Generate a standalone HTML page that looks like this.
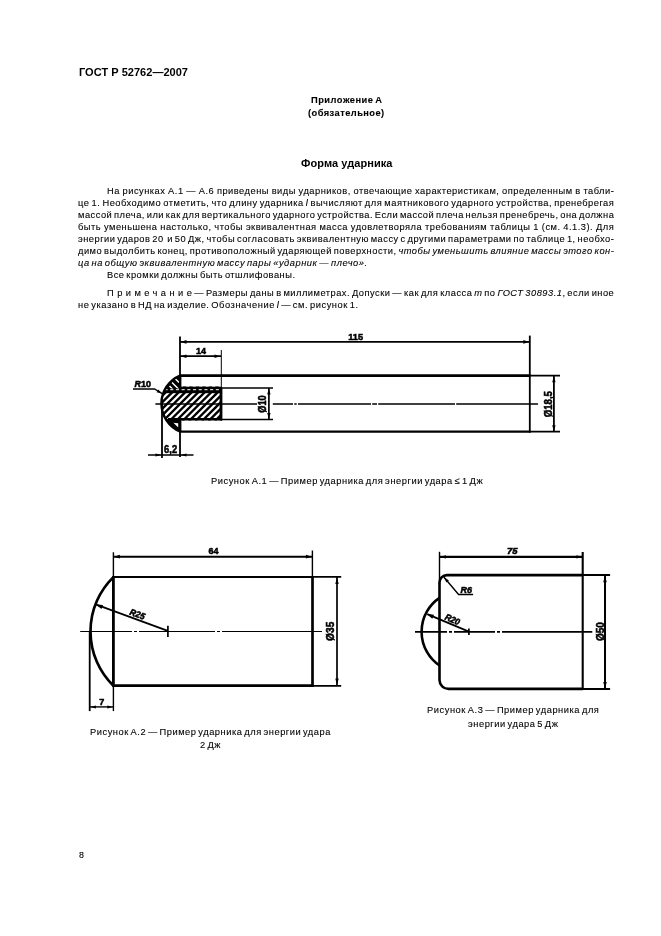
<!DOCTYPE html>
<html><head><meta charset="utf-8"><title>ГОСТ Р 52762—2007</title>
<style>
html,body{margin:0;padding:0;background:#fff;}
body{width:661px;height:936px;position:relative;overflow:hidden;font-family:"Liberation Sans",sans-serif;color:#000;}
.t{position:absolute;white-space:nowrap;line-height:12px;height:12px;will-change:transform;}
.s{-webkit-text-stroke:0.1px #000;}
.s{word-spacing:-1.3px;}
.j{text-align:justify;text-align-last:justify;}
svg{position:absolute;left:0;top:0;}
svg text{font-family:"Liberation Sans",sans-serif;}
</style></head><body>
<div class="t" style="left:79.0px;top:66.4px;font-size:11px;letter-spacing:0.028px;font-weight:bold">ГОСТ Р 52762—2007</div>
<div class="t s" style="left:310.7px;top:93.8px;font-size:9.3px;letter-spacing:0.494px;font-weight:bold">Приложение А</div>
<div class="t s" style="left:308.0px;top:107.2px;font-size:9.3px;letter-spacing:0.446px;font-weight:bold">(обязательное)</div>
<div class="t" style="left:300.5px;top:156.8px;font-size:11px;letter-spacing:0.066px;font-weight:bold">Форма ударника</div>
<div class="t j s" style="left:107.0px;top:184.6px;width:507.3px;font-size:9.3px;letter-spacing:0.493px;">На рисунках А.1 — А.6 приведены виды ударников, отвечающие характеристикам, определенным в табли-</div>
<div class="t j s" style="left:78.0px;top:196.7px;width:536.3px;font-size:9.3px;letter-spacing:0.493px;">це 1. Необходимо отметить, что длину ударника <i>l</i> вычисляют для маятникового ударного устройства, пренебрегая</div>
<div class="t j s" style="left:78.0px;top:208.8px;width:536.3px;font-size:9.3px;letter-spacing:0.493px;">массой плеча, или как для вертикального ударного устройства. Если массой плеча нельзя пренебречь, она должна</div>
<div class="t j s" style="left:78.0px;top:220.9px;width:536.3px;font-size:9.3px;letter-spacing:0.493px;">быть уменьшена настолько, чтобы эквивалентная масса удовлетворяла требованиям таблицы 1 (см. 4.1.3). Для</div>
<div class="t j s" style="left:78.0px;top:233.0px;width:536.3px;font-size:9.3px;letter-spacing:0.493px;">энергии ударов 20&nbsp; и 50 Дж, чтобы согласовать эквивалентную массу с другими параметрами по таблице 1, необхо-</div>
<div class="t j s" style="left:78.0px;top:245.1px;width:536.3px;font-size:9.3px;letter-spacing:0.493px;">димо выдолбить конец, противоположный ударяющей поверхности, <i>чтобы уменьшить влияние массы этого кон-</i></div>
<div class="t s" style="left:78.0px;top:257.2px;font-size:9.3px;letter-spacing:0.542px;"><i>ца на общую эквивалентную массу пары «ударник — плечо».</i></div>
<div class="t s" style="left:107.0px;top:269.3px;font-size:9.3px;letter-spacing:0.509px;">Все кромки должны быть отшлифованы.</div>
<div class="t j s" style="left:107.0px;top:286.7px;width:507.3px;font-size:9.3px;letter-spacing:0.493px;"><span style="letter-spacing:3.45px;word-spacing:0">Примечани</span>е — Размеры даны в миллиметрах. Допуски — как для класса <i>m</i> по <i>ГОСТ 30893.1</i>, если иное</div>
<div class="t s" style="left:78.0px;top:298.8px;font-size:9.3px;letter-spacing:0.551px;">не указано в НД на изделие. Обозначение <i>l</i> — см. рисунок 1.</div>
<div class="t s" style="left:210.6px;top:474.8px;font-size:9.3px;letter-spacing:0.546px;">Рисунок А.1 — Пример ударника для энергии удара ≤ 1 Дж</div>
<div class="t s" style="left:90.4px;top:725.6px;font-size:9.3px;letter-spacing:0.528px;">Рисунок А.2 — Пример ударника для энергии удара</div>
<div class="t s" style="left:200.0px;top:738.6px;font-size:9.3px;letter-spacing:0.472px;">2 Дж</div>
<div class="t s" style="left:426.5px;top:703.9px;font-size:9.3px;letter-spacing:0.551px;">Рисунок А.3 — Пример ударника для</div>
<div class="t s" style="left:467.8px;top:718.2px;font-size:9.3px;letter-spacing:0.535px;">энергии удара 5 Дж</div>
<div class="t s" style="left:78.5px;top:849.4px;font-size:8.9px;letter-spacing:0.000px;">8</div>
<svg width="661" height="936" viewBox="0 0 661 936" fill="none" stroke="#000" stroke-linecap="butt">
<defs>
<clipPath id="h1"><path d="M221,386.4 L221,420.5 L166.8,420.5 A30.4,30.4 0 0 1 166.9,386.4 Z"/></clipPath>
<clipPath id="h1a"><path d="M180,375.5 L180,388.5 L165.7,388.5 A30.4,30.4 0 0 1 180,375.5 Z"/></clipPath>
<clipPath id="h1b"><path d="M180,431.5 L180,419 L165.9,419 A30.4,30.4 0 0 0 180,431.5 Z"/></clipPath>
</defs>
<!-- ================= Figure A.1 ================= -->
<g id="fig1">
<!-- hatch -->
<g clip-path="url(#h1)">
<path d="M130.5,421 l36,-36 M137.0,421 l36,-36 M143.5,421 l36,-36 M150.0,421 l36,-36 M156.5,421 l36,-36 M163.0,421 l36,-36 M169.5,421 l36,-36 M176.0,421 l36,-36 M182.5,421 l36,-36 M189.0,421 l36,-36 M195.5,421 l36,-36 M202.0,421 l36,-36 M208.5,421 l36,-36 M215.0,421 l36,-36 M221.5,421 l36,-36" stroke-width="2.35"/>
<rect x="160" y="386.4" width="62" height="6.8" fill="#000" stroke="none"/>
<path d="M164.5,389.7 H220" stroke="#fff" stroke-width="1" stroke-dasharray="3.1,2.6"/>
</g>
<g clip-path="url(#h1a)">
<rect x="160" y="374" width="21" height="15" fill="#000" stroke="none"/>
<path d="M169.5,386 l4,4 M172,382.5 l7,7 M175,378.5 l4,4" stroke="#fff" stroke-width="1.5"/>
</g>
<g clip-path="url(#h1b)">
<rect x="160" y="419" width="21" height="14" fill="#000" stroke="none"/>
<path d="M173.4,422.8 L178.2,423.2 L178.2,427.6 Z" fill="#fff" stroke="none"/>
</g>
<!-- dome -->
<path d="M180,375.5 A30.4,30.4 0 0 0 180,431.5" stroke-width="2.4"/>
<!-- rod -->
<path d="M179.5,375.6 H530.5" stroke-width="2.7"/>
<path d="M179.5,431.6 H530.5" stroke-width="2.1"/>
<path d="M180,336.4 V376 M180,431 V457" stroke-width="1.8"/>
<path d="M180.2,375 V388.5 M180.2,419 V432" stroke-width="2.4"/>
<path d="M529.8,335.6 V432.6" stroke-width="1.8"/>
<!-- bore -->
<path d="M221,388.1 H273" stroke-width="1.5"/>
<path d="M168,419.3 H222" stroke-width="2.6"/>
<path d="M221,419.5 H273" stroke-width="1.5"/>
<path d="M221,387.5 V420.5" stroke-width="2.8"/>
<path d="M221.3,350 V388" stroke-width="1"/>
<!-- centre line -->
<path d="M155.4,404 H257 M272.8,404 H293 M294.3,404 H296.7 M298,404 H371 M372.2,404 H377 M378.2,404 H455 M456.2,404 H538" stroke-width="1.7"/>
<!-- dim 115 -->
<path d="M180,341.9 H530" stroke-width="1.9"/>
<path d="M180.5,341.9 l6,-1.8 v3.6 z M529.3,341.9 l-6,-1.8 v3.6 z" fill="#000" stroke="none"/>
<!-- dim 14 -->
<path d="M180,356.2 H221" stroke-width="1.7"/>
<path d="M180.5,356.2 l6,-1.7 v3.4 z M220.5,356.2 l-6,-1.7 v3.4 z" fill="#000" stroke="none"/>
<!-- dim 6,2 -->
<path d="M162,404 V458" stroke-width="1.8"/>
<path d="M148,455 H193.5" stroke-width="1.7"/>
<path d="M161.5,455 l-6,-1.5 v3 z M180.5,455 l6,-1.5 v3 z" fill="#000" stroke="none"/>
<!-- R10 leader -->
<path d="M133,389 H154.5 L162,393.5" stroke-width="1.4"/>
<path d="M162.5,393.8 l-5.8,-1.6 l1.5,-2.6 z" fill="#000" stroke="none"/>
<!-- dia 10 -->
<path d="M268.9,388.1 V419.5" stroke-width="1.7"/>
<path d="M268.9,388.5 l-1.7,6 h3.4 z M268.9,419 l-1.7,-6 h3.4 z" fill="#000" stroke="none"/>
<!-- dia 18,5 -->
<path d="M530,375.6 H560 M530,431.7 H560" stroke-width="1.8"/>
<path d="M553.9,375.8 V431.8" stroke-width="1.8"/>
<path d="M553.9,376.3 l-1.7,6 h3.4 z M553.9,431.3 l-1.7,-6 h3.4 z" fill="#000" stroke="none"/>
<!-- labels -->
<g fill="#000" stroke="#000" stroke-width="0.55" font-weight="bold" font-size="9.6px" text-anchor="middle">
<text x="355.6" y="339.6" textLength="14.8" lengthAdjust="spacingAndGlyphs">115</text>
<text x="200.9" y="353.6" font-size="9.4px" textLength="10" lengthAdjust="spacingAndGlyphs">14</text>
<text x="170.6" y="452.9" font-size="10.8px" textLength="13" lengthAdjust="spacingAndGlyphs">6,2</text>
<text x="142.7" y="386.8" textLength="16.4" lengthAdjust="spacingAndGlyphs"><tspan font-style="italic">R</tspan>10</text>
<text transform="translate(265.8,404) rotate(-90)" font-size="10.8px" textLength="17.5" lengthAdjust="spacingAndGlyphs">Ø10</text>
<text transform="translate(552.3,404.2) rotate(-90)" font-size="10.8px" textLength="26.3" lengthAdjust="spacingAndGlyphs">Ø18,5</text>
</g>
</g>
<!-- ================= Figure A.2 ================= -->
<g id="fig2">
<path d="M113.4,577.1 A75.8,75.8 0 0 0 113.4,685.7" stroke-width="2.7"/>
<path d="M112.3,576.9 H313.5" stroke-width="2"/>
<path d="M112.3,685.6 H313.5" stroke-width="2.9"/>
<path d="M113.4,576.2 V686.7" stroke-width="2.8"/>
<path d="M312.5,576 V687" stroke-width="2.7"/>
<path d="M113.4,552.3 V577 M312.4,550.4 V577" stroke-width="1.4"/>
<path d="M113.4,556.7 H312.4" stroke-width="2"/>
<path d="M113.9,556.7 l6,-1.9 v3.8 z M311.9,556.7 l-6,-1.9 v3.8 z" fill="#000" stroke="none"/>
<path d="M313,576.9 H341.2 M313,685.8 H341.2" stroke-width="1.7"/>
<path d="M337,577.1 V685.5" stroke-width="1.7"/>
<path d="M337,577.6 l-1.7,6.5 h3.4 z M337,685 l-1.7,-6.5 h3.4 z" fill="#000" stroke="none"/>
<path d="M80.2,631.5 H132 M134,631.5 H137 M139,631.5 H215 M217,631.5 H220 M222,631.5 H322" stroke-width="1.2"/>
<path d="M167.8,630.9 L96.3,604.7" stroke-width="1.8"/>
<path d="M95.6,604.4 l7.4,0.5 l-1.5,4 z" fill="#000" stroke="none"/>
<path d="M167.9,625.8 V637" stroke-width="1.7"/>
<path d="M89.7,631.5 V711.1" stroke-width="1.8"/>
<path d="M113.4,685.7 V711.1" stroke-width="1.4"/>
<path d="M89.7,706.9 H113.4" stroke-width="1.4"/>
<path d="M90.4,706.9 l5.5,-1.5 v3 z M112.8,706.9 l-5.5,-1.5 v3 z" fill="#000" stroke="none"/>
<g fill="#000" stroke="#000" stroke-width="0.55" font-weight="bold" font-size="9.6px" text-anchor="middle">
<text x="213.5" y="553.6" textLength="10" lengthAdjust="spacingAndGlyphs">64</text>
<text x="101.8" y="704.8" font-size="9px">7</text>
<text transform="translate(136.3,617.1) rotate(20)" font-size="9px" textLength="15.5" lengthAdjust="spacingAndGlyphs" font-style="italic">R25</text>
<text transform="translate(334.3,631.3) rotate(-90)" font-size="11px" textLength="19.2" lengthAdjust="spacingAndGlyphs">Ø35</text>
</g>
</g>
<!-- ================= Figure A.3 ================= -->
<g id="fig3">
<path d="M439.5,597.9 A40.85,40.85 0 0 0 439.5,665.5" stroke-width="2.6"/>
<path d="M583,575.1 H447 A7.5,7.5 0 0 0 439.5,583 V680 A9,9 0 0 0 448.5,688.9 H583" stroke-width="2.6"/>
<path d="M583,575.0 H610.1 M583,689 H610.1" stroke-width="2.1"/>
<path d="M582.7,552 V690" stroke-width="2.1"/>
<path d="M439.5,551.8 V584" stroke-width="1.4"/>
<path d="M439.5,556.8 H582.9" stroke-width="2.2"/>
<path d="M440,556.9 l6,-1.6 v3.2 z M582.4,556.9 l-6,-1.6 v3.2 z" fill="#000" stroke="none"/>
<path d="M605,575.2 V688.9" stroke-width="2"/>
<path d="M605,575.7 l-1.8,6.5 h3.6 z M605,688.4 l-1.8,-6.5 h3.6 z" fill="#000" stroke="none"/>
<path d="M415,631.9 H447 M449,631.9 H452 M454,631.9 H495 M497,631.9 H500 M502,631.9 H592.3" stroke-width="1.8"/>
<path d="M468.9,631.7 L427.3,614.2" stroke-width="1.8"/>
<path d="M426.8,613.9 l7.2,0.9 l-1.7,4 z" fill="#000" stroke="none"/>
<path d="M468.9,628.4 V635" stroke-width="1.7"/>
<path d="M444,577.2 L458.6,594.5 H473.1" stroke-width="1.4"/>
<path d="M443.6,576.8 l5.3,3.6 l-2.5,2.1 z" fill="#000" stroke="none"/>
<g fill="#000" stroke="#000" stroke-width="0.55" font-weight="bold" font-size="9.6px" text-anchor="middle">
<text x="512.2" y="554.4" textLength="10.5" lengthAdjust="spacingAndGlyphs" font-style="italic">75</text>
<text x="466.3" y="592.7" textLength="11.5" lengthAdjust="spacingAndGlyphs" font-style="italic">R6</text>
<text transform="translate(451.3,622.3) rotate(23)" font-size="9px" textLength="15.5" lengthAdjust="spacingAndGlyphs" font-style="italic">R20</text>
<text transform="translate(603.9,631.6) rotate(-90)" font-size="11px" textLength="19" lengthAdjust="spacingAndGlyphs">Ø50</text>
</g>
</g>
</svg>
</body></html>
